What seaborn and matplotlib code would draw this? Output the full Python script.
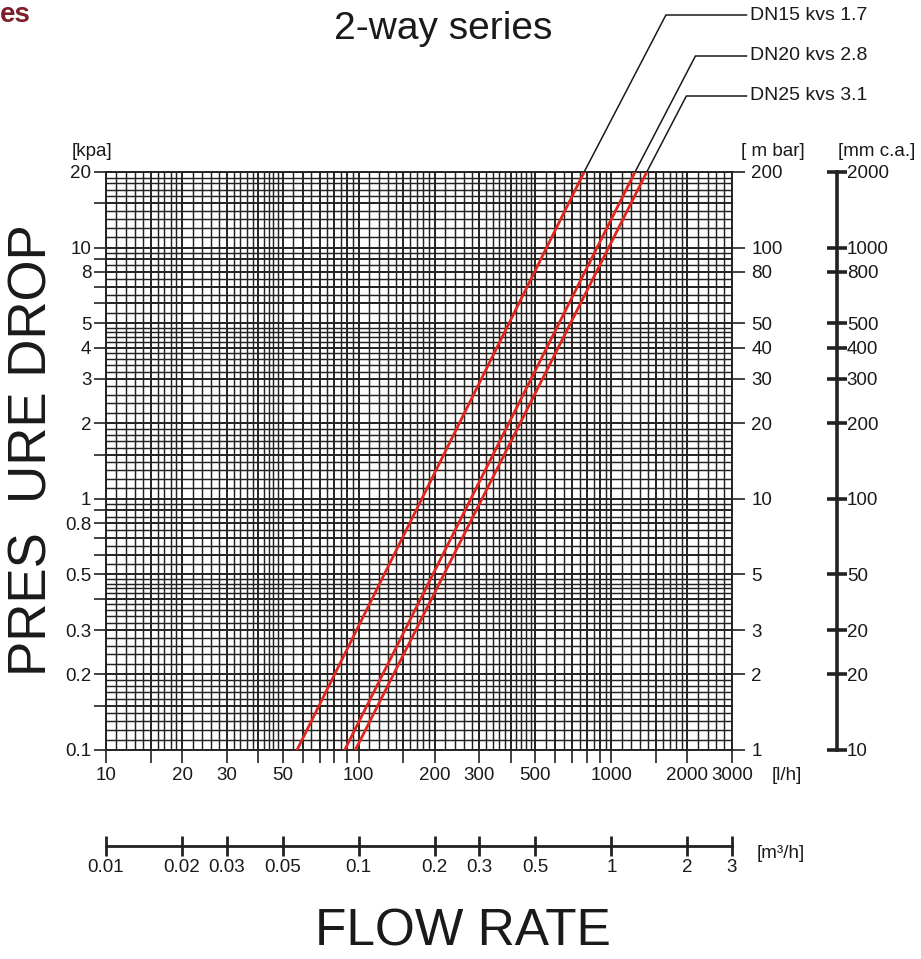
import numpy as np
import pandas as pd
import matplotlib
matplotlib.use("Agg")
import matplotlib.pyplot as plt
from matplotlib.ticker import FixedLocator, NullLocator
import seaborn as sns

# ---------------- data ----------------
series = ["DN15 kvs 1.7", "DN20 kvs 2.8", "DN25 kvs 3.1"]
flow_start_lh = [57, 88, 97]
flow_end_lh = [780, 1240, 1380]
dp_start_kpa = [0.1, 0.1, 0.1]
dp_end_kpa = [20, 20, 20]

x_label_vals = [10, 20, 30, 50, 100, 200, 300, 500, 1000, 2000, 3000]
x_label_text = ["10", "20", "30", "50", "100", "200", "300", "500", "1000", "2000", "3000"]
x_unlabeled = [15, 40, 60, 70, 80, 90, 150, 400, 600, 700, 800, 900, 1500]

y_label_vals = [20, 10, 8, 5, 4, 3, 2, 1, 0.8, 0.5, 0.3, 0.2, 0.1]
y_label_text = ["20", "10", "8", "5", "4", "3", "2", "1", "0.8", "0.5", "0.3", "0.2", "0.1"]
y_unlabeled = [15, 9, 7, 6, 1.5, 0.9, 0.7, 0.6, 0.4, 0.15]

mbar_vals = [200, 100, 80, 50, 40, 30, 20, 10, 5, 3, 2, 1]
mbar_text = ["200", "100", "80", "50", "40", "30", "20", "10", "5", "3", "2", "1"]

mm_pos_kpa = [20, 10, 8, 5, 4, 3, 2, 1, 0.5, 0.3, 0.2, 0.1]
mm_text = ["2000", "1000", "800", "500", "400", "300", "200", "100", "50", "20", "20", "10"]

m3h_vals = [0.01, 0.02, 0.03, 0.05, 0.1, 0.2, 0.3, 0.5, 1, 2, 3]
m3h_text = ["0.01", "0.02", "0.03", "0.05", "0.1", "0.2", "0.3", "0.5", "1", "2", "3"]

# graph-paper rulings (mantissas within one decade)
grid_mantissa = [1.0, 1.1, 1.2, 1.3, 1.4, 1.5, 1.6, 1.7, 1.8, 1.9,
                 2.0, 2.2, 2.4, 2.6, 2.8, 3.0, 3.2, 3.4, 3.6, 3.8, 4.0, 4.2, 4.4, 4.6, 4.8,
                 5.0, 5.5, 6.0, 6.5, 7.0, 7.5, 8.0, 8.5, 9.0, 9.5]
x_decades = [10, 100, 1000]
y_decades = [0.1, 1, 10]

# ---------------- style ----------------
sns.set_theme(style="white")
plt.rcParams['font.family'] = ['Liberation Sans', 'DejaVu Sans']
for k in ['text.color', 'xtick.color', 'ytick.color', 'xtick.labelcolor', 'ytick.labelcolor']:
    plt.rcParams[k] = '#1a1a1a'

W, H = 921, 959
fig = plt.figure(figsize=(W / 100, H / 100), dpi=100)
fig.patch.set_facecolor('white')

def fx(px):
    return px / W

def fy(py):
    return 1 - py / H

L, R, T, B = 106, 732, 172, 750
GRID = '#222222'
RED = '#e1261c'
TICK_FS = 13.5
UNIT_FS = 13.5

ax = fig.add_axes([fx(L), fy(B), fx(R) - fx(L), fy(T) - fy(B)])
ax.set_xscale('log')
ax.set_yscale('log')

df = pd.DataFrame({
    'series': series * 2,
    'flow': flow_start_lh + flow_end_lh,
    'dp': dp_start_kpa + dp_end_kpa,
})
sns.lineplot(data=df, x='flow', y='dp', hue='series', palette=[RED] * 3,
             estimator=None, legend=False, linewidth=2.0, ax=ax, zorder=5)

ax.set_xlim(10, 3000)
ax.set_ylim(0.1, 20)
ax.set_xlabel('')
ax.set_ylabel('')
ax.set_axisbelow(True)

grid_x = [d * m for d in x_decades for m in grid_mantissa if d * m <= 3000]
grid_y = [d * m for d in y_decades for m in grid_mantissa if d * m <= 20]

ax.xaxis.set_minor_locator(FixedLocator(grid_x))
ax.yaxis.set_minor_locator(FixedLocator(grid_y))
ax.set_xticks(x_label_vals + x_unlabeled,
              x_label_text + [''] * len(x_unlabeled))
ax.set_yticks(y_label_vals + y_unlabeled,
              y_label_text + [''] * len(y_unlabeled))
ax.xaxis.set_minor_formatter(plt.NullFormatter())
ax.yaxis.set_minor_formatter(plt.NullFormatter())

ax.grid(True, which='minor', color=GRID, linewidth=1.05)
ax.grid(True, which='major', color=GRID, linewidth=1.4)
ax.tick_params(which='minor', length=0)
ax.tick_params(which='major', direction='out', length=9, width=1.2,
               color=GRID, labelsize=TICK_FS, pad=1.5, bottom=True, left=True)
ax.tick_params(axis='x', which='major', pad=3)
for s in ax.spines.values():
    s.set_color(GRID)
    s.set_linewidth(1.4)

# right axis in mbar
axr = ax.twinx()
axr.set_yscale('log')
axr.set_ylim(1, 200)
axr.set_yticks(mbar_vals, mbar_text)
axr.yaxis.set_minor_locator(NullLocator())
axr.tick_params(axis='y', direction='out', length=9, width=1.2, color=GRID,
                labelsize=TICK_FS, pad=5, right=True)
axr.grid(False)
for s in axr.spines.values():
    s.set_visible(False)

# mm c.a. scale bar
axm = fig.add_axes([fx(837), fy(B), 1e-4, fy(T) - fy(B)])
axm.patch.set_visible(False)
axm.set_yscale('log')
axm.set_ylim(0.1, 20)
axm.set_xticks([])
for s in ['top', 'bottom', 'right']:
    axm.spines[s].set_visible(False)
axm.spines['left'].set_linewidth(2.6)
axm.spines['left'].set_color('#222222')
axm.set_yticks(mm_pos_kpa, mm_text)
axm.yaxis.set_minor_locator(NullLocator())
axm.tick_params(axis='y', direction='inout', length=15, width=2.6, color='#222222',
                left=True, right=False, labelleft=False, labelright=True,
                labelsize=TICK_FS, pad=-0.5)

# m3/h scale bar
axq = fig.add_axes([fx(L), fy(846), fx(R) - fx(L), 1e-4])
axq.patch.set_visible(False)
axq.set_xscale('log')
axq.set_xlim(0.01, 3)
axq.set_yticks([])
for s in ['top', 'left', 'right']:
    axq.spines[s].set_visible(False)
axq.spines['bottom'].set_linewidth(2.0)
axq.spines['bottom'].set_color('#222222')
axq.set_xticks(m3h_vals, m3h_text)
axq.xaxis.set_minor_locator(NullLocator())
axq.tick_params(axis='x', direction='inout', length=15, width=2.0, color='#222222',
                bottom=True, top=False, labelsize=TICK_FS, pad=1.5)

# leader lines + series labels
label_y_px = [15, 56, 96]
for name, fq, dq, ypx in zip(series, flow_end_lh, dp_end_kpa, label_y_px):
    ax.annotate(name, xy=(fq, dq), xycoords='data',
                xytext=(750, H - ypx), textcoords='figure pixels',
                ha='left', va='center', fontsize=14, color='#1a1a1a',
                arrowprops=dict(arrowstyle='-', color='#1a1a1a', lw=1.1,
                                connectionstyle='angle,angleA=0,angleB=62.5,rad=0',
                                relpos=(0, 0.5), shrinkA=0, shrinkB=0),
                annotation_clip=False)

# texts
fig.text(fx(443), fy(29), "2-way series", ha='center', va='center', fontsize=28)
fig.text(fx(0), fy(22), "es", ha='left', va='baseline', fontsize=20,
         fontweight='bold', color='#7b1f2b')
fig.text(fx(92), fy(152), "[kpa]", ha='center', va='center', fontsize=UNIT_FS)
fig.text(fx(773), fy(152), "[ m bar]", ha='center', va='center', fontsize=UNIT_FS)
fig.text(fx(877), fy(152), "[mm c.a.]", ha='center', va='center', fontsize=UNIT_FS)
fig.text(fx(772), fy(775), "[l/h]", ha='left', va='center', fontsize=UNIT_FS)
fig.text(fx(757), fy(853), "[m³/h]", ha='left', va='center', fontsize=UNIT_FS)
fig.text(fx(33), fy(450), "PRES  URE DROP", ha='center', va='center',
         rotation=90, fontsize=38)
fig.text(fx(463), fy(932), "FLOW RATE", ha='center', va='center', fontsize=37)

fig.savefig("out.png", dpi=100)
